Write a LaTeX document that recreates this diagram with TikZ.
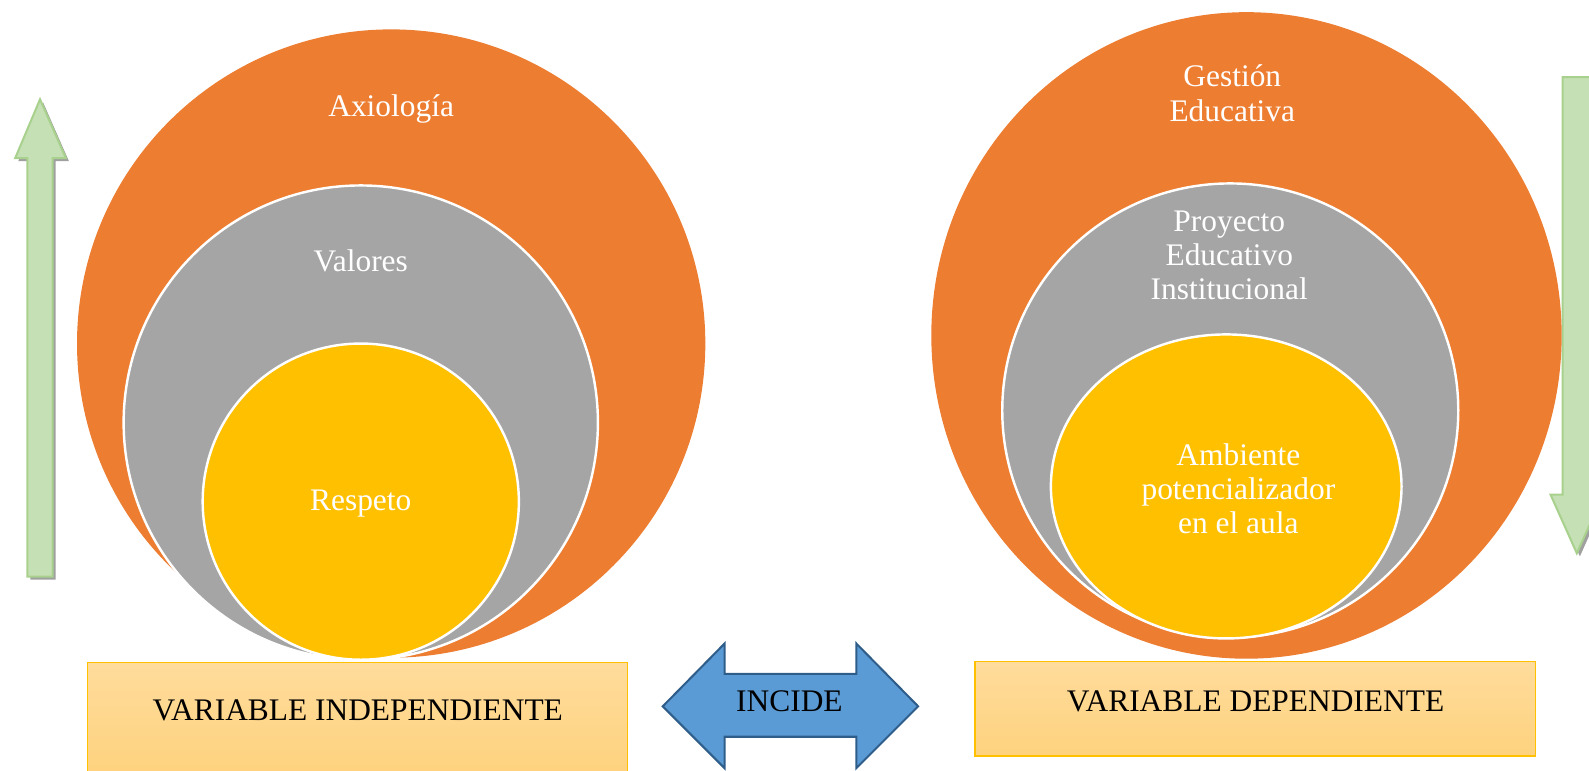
\documentclass[tikz,border=0pt]{standalone}
\usepackage{fontspec}
\setmainfont{Liberation Serif}
\usepackage{tikz}

\definecolor{naranja}{HTML}{ED7D31}
\definecolor{gris}{HTML}{A5A5A5}
\definecolor{amarillo}{HTML}{FFC000}
\definecolor{cajaarriba}{HTML}{FFDC9C}
\definecolor{cajaabajo}{HTML}{FED27E}
\definecolor{verde}{HTML}{C5E0B4}
\definecolor{verdeborde}{HTML}{A9D18E}
\definecolor{sombra}{HTML}{A0A0A0}
\definecolor{azul}{HTML}{5B9BD5}
\definecolor{azulborde}{HTML}{2F5D8A}

\tikzset{
  circtxt/.style={text=white,align=center,font=\fontsize{15.5}{16.8}\selectfont},
  vartxt/.style={text=black,font=\fontsize{15.5}{16.8}\selectfont},
  caja/.style={draw=amarillo,line width=0.6pt,top color=cajaarriba,bottom color=cajaabajo},
  anillo/.style={draw=white,line width=1.2pt},
  flecha/.style={fill=verde,draw=verdeborde,line width=1pt}
}

\begin{document}
\begin{tikzpicture}[x=0.5pt,y=-0.5pt]
\useasboundingbox (0,0) rectangle (1568,760);

% green arrows
\fill[sombra] (42.5,101) -- (68,159) -- (55,159) -- (55,572) -- (30,572) -- (30,159) -- (18,159) -- cycle;
\draw[flecha] (39.5,98) -- (65,156) -- (52,156) -- (52,569) -- (27,569) -- (27,156) -- (15,156) -- cycle;
\fill[sombra] (1545,79) -- (1574,79) -- (1574,491) -- (1585,491) -- (1559,549) -- (1533,491) -- (1545,491) -- cycle;
\draw[flecha] (1542,76) -- (1571,76) -- (1571,488) -- (1582,488) -- (1556,546) -- (1530,488) -- (1542,488) -- cycle;

% left circles
\fill[naranja] (386,339) circle (310);
\filldraw[fill=gris,anillo] (356,417) circle (234);
\filldraw[fill=amarillo,anillo] (356,495) circle (156);
\draw (386,108) node[circtxt] (axiologia) {Axiología};
\draw (356,257) node[circtxt] (valores) {Valores};
\draw (356,497) node[circtxt] (respeto) {Respeto};

% right circles
\fill[naranja] (1230,331) ellipse [x radius=311, y radius=319];
\filldraw[fill=gris,anillo] (1214,405) ellipse [x radius=225, y radius=224];
\filldraw[fill=amarillo,anillo] (1210,480) ellipse [x radius=173, y radius=150];
\draw (1216,92) node[circtxt] (gestion) {Gestión\\Educativa};
\draw (1213,252) node[circtxt] (proyecto) {Proyecto\\Educativo\\Institucional};
\draw (1222,482) node[circtxt] (ambiente) {Ambiente\\potencializador\\en el aula};

% variable boxes
\draw[caja] (86,654) rectangle (619,764);
\draw[caja] (962,653) rectangle (1515,746);
\draw (353,701) node[vartxt] (indep) {VARIABLE INDEPENDIENTE};
\draw (1239,692) node[vartxt] (dep) {VARIABLE DEPENDIENTE};

% double arrow
\draw[fill=azul,draw=azulborde,line width=1pt] (654,697) -- (715,635) -- (715,665) -- (845,665) -- (845,635) -- (906,697)
  -- (845,758) -- (845,727) -- (715,727) -- (715,758) -- cycle;
\draw (779,692) node[vartxt] (incide) {INCIDE};
\end{tikzpicture}
\end{document}
